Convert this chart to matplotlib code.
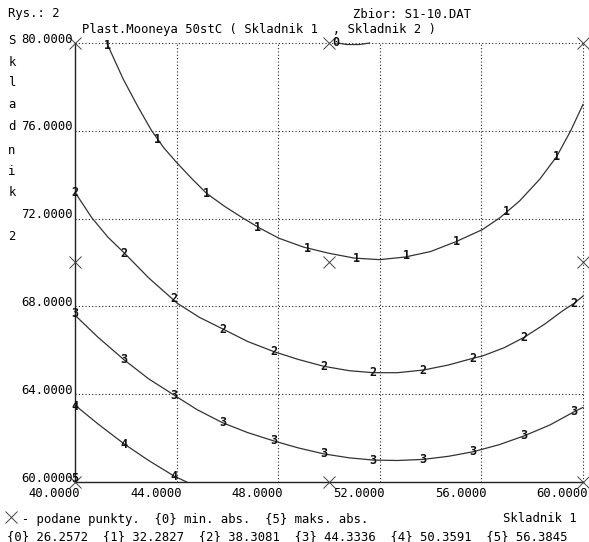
import matplotlib
matplotlib.use("Agg")
import matplotlib.pyplot as plt

# ---------------- data ----------------
x_ticks = [40, 44, 48, 52, 56, 60]
y_ticks = [60, 64, 68, 72, 76, 80]

level_values = [26.2572, 32.2827, 38.3081, 44.3336, 50.3591, 56.3845]

# contour lines (Skladnik 1, Skladnik 2)
c0_x = [50.35, 50.7, 51.2, 51.6]
c0_y = [80.0, 79.93, 79.93, 80.0]

c1_x = [41.25, 41.9, 42.5, 43.02, 43.5, 44.03, 44.6, 45.18, 45.9, 46.63, 47.3, 48.04,
        49.0, 50.0, 51.0, 52.0, 53.0, 54.0, 55.0, 56.04, 56.73, 57.5, 58.3, 58.96, 59.51, 60.0]
c1_y = [80.0, 78.35, 77.05, 76.0, 75.22, 74.52, 73.82, 73.15, 72.55, 72.01, 71.55, 71.1,
        70.7, 70.42, 70.2, 70.13, 70.25, 70.5, 70.95, 71.5, 72.04, 72.8, 73.8, 74.82, 75.99, 77.2]

c2_x = [40.0, 40.66, 41.3, 41.97, 42.9, 44.03, 44.9, 45.84, 46.8, 47.83, 48.8, 49.8,
        50.8, 51.74, 52.7, 53.71, 54.7, 55.68, 56.04, 56.9, 57.68, 58.5, 59.2, 59.65, 60.0]
c2_y = [73.2, 72.04, 71.15, 70.4, 69.3, 68.14, 67.5, 66.96, 66.4, 65.94, 65.58, 65.27,
        65.07, 64.98, 64.98, 65.1, 65.33, 65.64, 65.74, 66.12, 66.59, 67.2, 67.8, 68.14, 68.47]

c3_x = [40.0, 40.9, 41.94, 42.9, 43.9, 44.8, 45.81, 46.8, 47.83, 48.8, 49.8, 50.8,
        51.74, 52.7, 53.71, 54.7, 55.68, 56.7, 57.68, 58.7, 59.65, 60.0]
c3_y = [67.6, 66.6, 65.56, 64.7, 63.96, 63.3, 62.7, 62.25, 61.87, 61.55, 61.28, 61.1,
        61.0, 60.98, 61.03, 61.17, 61.38, 61.7, 62.1, 62.6, 63.2, 63.4]

c4_x = [40.0, 40.9, 41.94, 42.9, 43.9, 44.4]
c4_y = [63.5, 62.65, 61.73, 60.98, 60.27, 60.0]

# contour label positions
lab0 = [(50.25, 80.02)]
lab1 = [(41.29, 79.9), (43.26, 75.6), (45.18, 73.15), (47.19, 71.6), (49.15, 70.65),
        (51.09, 70.19), (53.06, 70.3), (55.03, 70.95), (57.0, 72.31), (58.96, 74.82)]
lab2 = [(40.0, 73.18), (41.94, 70.42), (43.9, 68.37), (45.84, 66.96), (47.83, 65.94),
        (49.8, 65.27), (51.74, 64.98), (53.71, 65.1), (55.68, 65.64), (57.68, 66.59),
        (59.65, 68.14)]
lab3 = [(40.0, 67.69), (41.94, 65.56), (43.9, 63.96), (45.81, 62.7), (47.83, 61.87),
        (49.8, 61.28), (51.74, 61.0), (53.71, 61.03), (55.68, 61.38), (57.68, 62.10),
        (59.65, 63.2)]
lab4 = [(40.0, 63.46), (41.94, 61.73), (43.9, 60.27)]
lab5 = [(40.0, 60.15)]

# given points (X markers)
pts_x = [40, 50, 60, 40, 50, 60, 40, 50, 60]
pts_y = [80, 80, 80, 70, 70, 70, 60, 60, 60]

ylabel_letters = ["S", "k", "l", "a", "d", "n", "i", "k", "2"]
ylabel_pix_y = [41, 62, 83, 104, 127, 150, 172, 192, 236]

# ---------------- figure ----------------
W, H = 589, 542
FONT = "DejaVu Sans Mono"
FS = 8.8
TXT = "#000000"
fig = plt.figure(figsize=(W / 100, H / 100), dpi=100)
fig.patch.set_facecolor("white")

L, R, T, B = 75, 583, 43, 482
ax = fig.add_axes([L / W, 1 - B / H, (R - L) / W, (B - T) / H])
ax.set_xlim(40, 60)
ax.set_ylim(60, 80)
ax.set_xticks([])
ax.set_yticks([])
for s in ["top", "right"]:
    ax.spines[s].set_visible(False)
for s in ["left", "bottom"]:
    ax.spines[s].set_linewidth(1.0)
    ax.spines[s].set_color("#222222")

# dotted grid
for xv in x_ticks[1:]:
    ax.axvline(xv, color="#222222", lw=0.8, ls=(0, (1, 2)), clip_on=False, zorder=1)
for yv in y_ticks[1:]:
    ax.axhline(yv, color="#222222", lw=0.8, ls=(0, (1, 2)), clip_on=False, zorder=1)

# contours
for cx, cy in [(c0_x, c0_y), (c1_x, c1_y), (c2_x, c2_y), (c3_x, c3_y), (c4_x, c4_y)]:
    ax.plot(cx, cy, color="#333333", lw=0.9, clip_on=False, zorder=2)

# contour labels
for digit, labs in enumerate([lab0, lab1, lab2, lab3, lab4, lab5]):
    for (lx, ly) in labs:
        ax.text(lx, ly, str(digit), fontsize=8.5, family=FONT, fontweight="bold",
                ha="center", va="center", color="#111111", zorder=4, clip_on=False)

# given points
ax.plot(pts_x, pts_y, ls="none", marker="x", ms=8.5, mew=0.7, color="#444444",
        clip_on=False, zorder=3)

# tick labels
for xv in x_ticks:
    ax.annotate(f"{xv:.4f}", (xv, 60), xytext=(3.6, -8.6), textcoords="offset points",
                ha="right", va="center", fontsize=FS, family=FONT, color=TXT)
for yv in y_ticks:
    ax.annotate(f"{yv:.4f}", (40, yv), xytext=(-1.5, 2.8), textcoords="offset points",
                ha="right", va="center", fontsize=FS, family=FONT, color=TXT)

def ftext(px, py, s, ha="left"):
    fig.text(px / W, 1 - py / H, s, ha=ha, va="center", fontsize=FS, family=FONT,
             color=TXT)

# vertical axis title letters
for letter, py in zip(ylabel_letters, ylabel_pix_y):
    fig.text(12 / W, 1 - py / H, letter, ha="center", va="center", fontsize=FS,
             family=FONT, color=TXT)

ftext(8, 14, "Rys.: 2")
ftext(353, 14, "Zbior: S1-10.DAT")
ftext(82, 30, "Plast.Mooneya 50stC ( Skladnik 1  , Skladnik 2 )")

# legend lines at the bottom
fig.lines.append(plt.Line2D([11 / W], [1 - 517 / H], marker="x", ms=8, mew=0.7,
                            color="#444444", ls="none", transform=fig.transFigure))
ftext(7, 519, "  - podane punkty.  {0} min. abs.  {5} maks. abs.")
ftext(503, 519, "Skladnik 1")
ftext(7, 537, "  ".join(f"{{{i}}} {v:.4f}" for i, v in enumerate(level_values)))

fig.savefig("out.png", dpi=100, facecolor="white")
